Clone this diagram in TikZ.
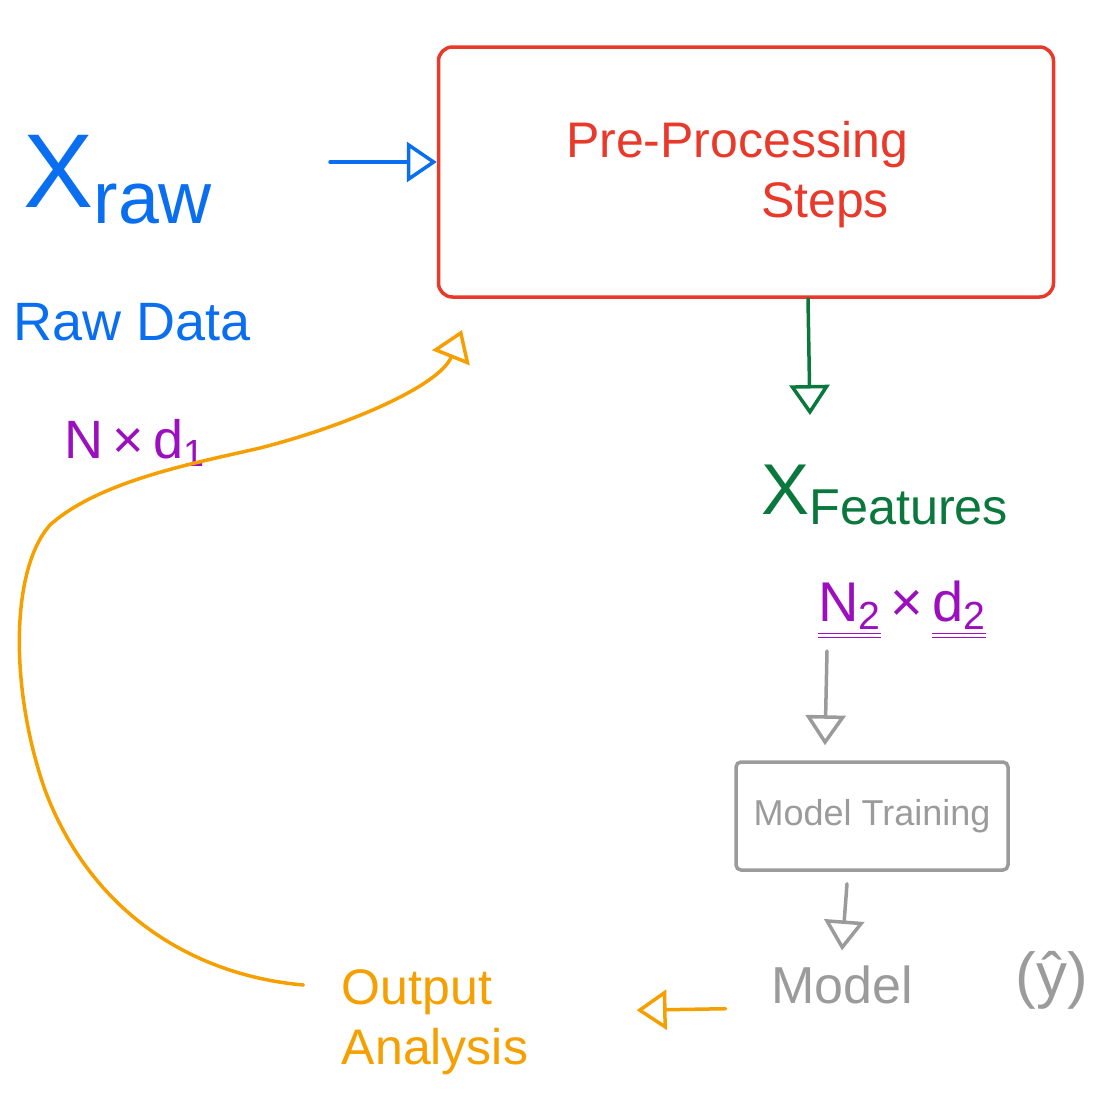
\documentclass[tikz,border=0pt]{standalone}
\usepackage{fix-cm}
\usepackage{amsmath}
\usepackage{fontspec}
\setmainfont{Liberation Sans}
\usetikzlibrary{arrows.meta,positioning}

\definecolor{penblue}{RGB}{10,110,240}
\definecolor{penred}{RGB}{232,57,43}
\definecolor{pengreen}{RGB}{10,120,60}
\definecolor{penpurple}{RGB}{155,15,190}
\definecolor{pengray}{RGB}{155,155,155}
\definecolor{penorange}{RGB}{245,160,0}

\begin{document}
\begin{tikzpicture}[
  x=1pt, y=-1pt,
  box/.style={draw, line width=3.5pt, rounded corners=14pt},
  pen/.style={line width=3.5pt, line cap=round},
  tip/.style={-{Triangle[open, length=30pt, width=40pt, line width=3.5pt]}},
  big/.style={font=\fontsize{50}{60}\selectfont}
]
\useasboundingbox (0,0) rectangle (1120,1096);

% pre-processing block
\node[box, draw=penred, minimum width=615pt, minimum height=250pt] (pre) at (746,172) {};
\node[penred, big] (ppname) at (737,145) {Pre-Processing};
\node[penred, big] (ppsteps) at (825,205) {Steps};

% raw input
\node[penblue, font=\fontsize{105}{110}\selectfont] (xraw) at (118,180) {$\text{X}_{\text{raw}}$};
\node[penblue, font=\fontsize{54}{60}\selectfont] (rawdata) at (132,322) {Raw Data};
\node[penpurple, font=\fontsize{54}{60}\selectfont] (dimsone) at (135,443) {N\,×\,d\textsubscript{1}};

% features
\node[pengreen, font=\fontsize{72}{80}\selectfont] (xfeat) at (885,495) {$\text{X}_{\text{Features}}$};
\node[penpurple, font=\fontsize{56}{64}\selectfont] (dimstwo) at (902,610) {\underline{\underline{N\textsubscript{2}}}\,×\,\underline{\underline{d\textsubscript{2}}}};

% training and model
\node[box, draw=pengray, rounded corners=5pt, minimum width=272pt, minimum height=108pt,
      text=pengray, font=\fontsize{36}{40}\selectfont] (train) at (872,816) {Model Training};
\node[pengray, font=\fontsize{52}{56}\selectfont] (model) at (842,985) {Model};
\node[pengray, font=\fontsize{62}{66}\selectfont] (yhat) at (1052,980) {(ŷ)};

% output
\node[penorange, big, align=left] (out) at (435,1022) {Output\\Analysis};

\coordinate (rawin) at (330,162);
\coordinate (featin) at (810,415);
\coordinate (fbin) at (462,330);

% connectors
\draw[pen, tip, penblue] (rawin) -- (pre.west |- rawin);
\draw[pen, tip, pengreen] ([xshift=62pt]pre.south) -- (featin);
\draw[pen, tip, pengray] ([xshift=-75pt, yshift=-8pt]dimstwo.south) -- ([xshift=-47pt, yshift=15pt]train.north);
\draw[pen, tip, pengray] ([xshift=-25pt, yshift=-12pt]train.south) -- ([yshift=12pt]model.north);
\draw[pen, tip, penorange, shorten <=42pt, shorten >=105pt] ([yshift=-23pt]model.west) -- ([yshift=10pt]out.east);
\draw[pen, tip, penorange] ([xshift=-35pt, yshift=37pt]out.west)
  .. controls (190,975) and (90,910) .. (45,790)
  .. controls (10,690) and (10,570) .. (50,525)
  .. controls (100,480) and (200,462) .. (260,448)
  .. controls (350,425) and (440,385) .. (fbin);
\end{tikzpicture}
\end{document}
